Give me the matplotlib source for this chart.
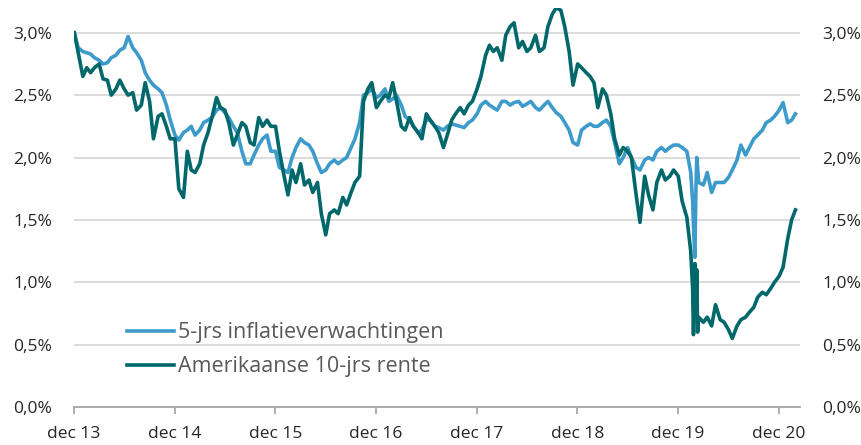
import numpy as np
import pandas as pd
import matplotlib
matplotlib.use("Agg")
import matplotlib.pyplot as plt

plt.rcParams["font.family"] = ["Open Sans", "DejaVu Sans"]

# ── data (semi-monthly: 1st and 15th) ──────────────────────────────────
# 5-jrs inflatieverwachtingen (%)
light_2014 = [3.00, 2.88, 2.85, 2.84, 2.83, 2.80, 2.78, 2.75, 2.76, 2.80, 2.82, 2.86,
              2.88, 2.97, 2.88, 2.84, 2.78, 2.68, 2.62, 2.58, 2.55, 2.52, 2.42, 2.30]
light_2015 = [2.18, 2.14, 2.20, 2.22, 2.25, 2.18, 2.22, 2.28, 2.30, 2.32, 2.38, 2.40,
              2.36, 2.32, 2.25, 2.20, 2.05, 1.95, 1.95, 2.02, 2.10, 2.15, 2.18, 2.05]
light_2016 = [2.05, 1.92, 1.90, 1.88, 2.00, 2.08, 2.15, 2.12, 2.10, 2.05, 1.95, 1.88,
              1.90, 1.95, 1.98, 1.95, 1.98, 2.00, 2.08, 2.15, 2.28, 2.50, 2.52, 2.55]
light_2017 = [2.48, 2.50, 2.55, 2.45, 2.47, 2.50, 2.42, 2.33, 2.30, 2.25, 2.20, 2.22,
              2.30, 2.30, 2.25, 2.24, 2.22, 2.25, 2.27, 2.26, 2.25, 2.24, 2.28, 2.30]
light_2018 = [2.35, 2.42, 2.45, 2.42, 2.40, 2.38, 2.45, 2.45, 2.42, 2.44, 2.45, 2.41,
              2.43, 2.45, 2.40, 2.38, 2.42, 2.45, 2.40, 2.36, 2.33, 2.28, 2.22, 2.12]
light_2019 = [2.10, 2.22, 2.25, 2.27, 2.25, 2.25, 2.28, 2.30, 2.25, 2.12, 1.95, 2.00,
              2.08, 2.00, 1.92, 1.90, 1.98, 2.00, 1.98, 2.05, 2.08, 2.05, 2.08, 2.10]
light_2020 = [2.10, 2.08, 2.05, 1.88, 1.20, 1.80, 1.78, 1.88, 1.72, 1.80, 1.80, 1.80,
              1.84, 1.90, 1.98, 2.10, 2.02, 2.08, 2.15, 2.18, 2.22, 2.28, 2.30, 2.33]
light_2021 = [2.38, 2.44, 2.28, 2.30, 2.35]

# Amerikaanse 10-jrs rente (%)
dark_2014 = [3.00, 2.84, 2.65, 2.72, 2.68, 2.72, 2.75, 2.63, 2.62, 2.50, 2.55, 2.62,
             2.55, 2.50, 2.52, 2.38, 2.42, 2.60, 2.45, 2.15, 2.33, 2.35, 2.25, 2.15]
dark_2015 = [2.15, 1.75, 1.68, 2.05, 1.90, 1.88, 1.95, 2.10, 2.20, 2.32, 2.48, 2.40,
             2.38, 2.28, 2.10, 2.18, 2.28, 2.25, 2.12, 2.10, 2.32, 2.25, 2.30, 2.25]
dark_2016 = [2.25, 2.05, 1.85, 1.70, 1.90, 1.80, 1.95, 1.78, 1.82, 1.72, 1.80, 1.55,
             1.38, 1.55, 1.58, 1.55, 1.68, 1.62, 1.72, 1.80, 1.85, 2.45, 2.55, 2.60]
dark_2017 = [2.40, 2.45, 2.50, 2.48, 2.60, 2.45, 2.25, 2.22, 2.32, 2.25, 2.20, 2.15,
             2.35, 2.30, 2.25, 2.20, 2.08, 2.18, 2.30, 2.35, 2.40, 2.35, 2.42, 2.45]
dark_2018 = [2.55, 2.65, 2.82, 2.90, 2.85, 2.88, 2.78, 2.98, 3.05, 3.08, 2.88, 2.93,
             2.85, 2.88, 2.98, 2.85, 2.88, 3.05, 3.15, 3.20, 3.18, 3.05, 2.85, 2.58]
dark_2019 = [2.75, 2.72, 2.68, 2.65, 2.60, 2.40, 2.55, 2.50, 2.35, 2.15, 2.02, 2.08,
             2.05, 2.00, 1.70, 1.48, 1.85, 1.70, 1.58, 1.80, 1.90, 1.82, 1.85, 1.90]
dark_2020 = [1.85, 1.65, 1.52, 1.25, 1.15, 0.72, 0.68, 0.72, 0.65, 0.82, 0.70, 0.68,
             0.62, 0.55, 0.65, 0.70, 0.72, 0.76, 0.80, 0.88, 0.92, 0.90, 0.95, 1.00]
dark_2021 = [1.05, 1.12, 1.35, 1.50, 1.58]

# extra readings around the March 2020 crash
crash_dates = ["2020-02-22", "2020-02-25", "2020-03-05", "2020-03-08", "2020-03-11"]
crash_light = [1.65, 1.45, 1.75, 2.00, 1.92]
crash_dark = [0.95, 0.58, 0.80, 1.10, 0.60]

tick_years = [2013, 2014, 2015, 2016, 2017, 2018, 2019, 2020]
y_ticks = [0.0, 0.5, 1.0, 1.5, 2.0, 2.5, 3.0]

label_light = "5-jrs inflatieverwachtingen"
label_dark = "Amerikaanse 10-jrs rente"

# ── assemble series ────────────────────────────────────────────────
dates = pd.date_range("2014-01-01", "2021-03-01", freq="SMS")
light = (light_2014 + light_2015 + light_2016 + light_2017 + light_2018
         + light_2019 + light_2020 + light_2021)
dark = (dark_2014 + dark_2015 + dark_2016 + dark_2017 + dark_2018
        + dark_2019 + dark_2020 + dark_2021)

df = pd.DataFrame({"light": light, "dark": dark}, index=dates)
extra = pd.DataFrame({"light": crash_light, "dark": crash_dark},
                     index=pd.to_datetime(crash_dates))
df = pd.concat([df, extra]).sort_index()

# ── plot ───────────────────────────────────────────────────────────
LIGHT = "#3D9BCB"
DARK = "#00676A"
GRID = "#D9D9D9"
AXIS = "#A6A6A6"
TEXT = "#262626"

fig = plt.figure(figsize=(8.61, 4.45), dpi=100)
ax = fig.add_axes([0.086, 0.0854, 0.843, 0.897])

ax.plot(df.index, df["light"], color=LIGHT, lw=2.6, label=label_light, zorder=3)
ax.plot(df.index, df["dark"], color=DARK, lw=2.6, label=label_dark, zorder=4)

ax.set_ylim(0, 3.2)
ax.set_xlim(pd.Timestamp("2013-12-31"), pd.Timestamp("2021-03-17"))

ax.set_yticks(y_ticks)
ax.set_yticklabels([f"{v:.1f}%".replace(".", ",") for v in y_ticks])
ax.grid(axis="y", color=GRID, lw=1.3, zorder=0)
ax.tick_params(axis="y", length=0, pad=16, labelsize=12.5, labelcolor=TEXT,
               labelleft=True, labelright=True)

xt = [pd.Timestamp(f"{y}-12-31") for y in tick_years]
ax.set_xticks(xt)
ax.set_xticklabels([f"dec {y % 100:02d}" for y in tick_years])
ax.tick_params(axis="x", length=5, width=1.3, color=AXIS, pad=9,
               labelsize=12.5, labelcolor=TEXT)

for side in ["left", "right", "top"]:
    ax.spines[side].set_visible(False)
ax.spines["bottom"].set_color(AXIS)
ax.spines["bottom"].set_linewidth(1.3)

ax.legend(loc="lower left", bbox_to_anchor=(0.073, 0.075), frameon=False,
          fontsize=15.5, labelcolor="#595959", handlelength=2.2,
          handletextpad=0.15, labelspacing=0.6, borderpad=0, borderaxespad=0)

fig.savefig("out.png", dpi=100)
